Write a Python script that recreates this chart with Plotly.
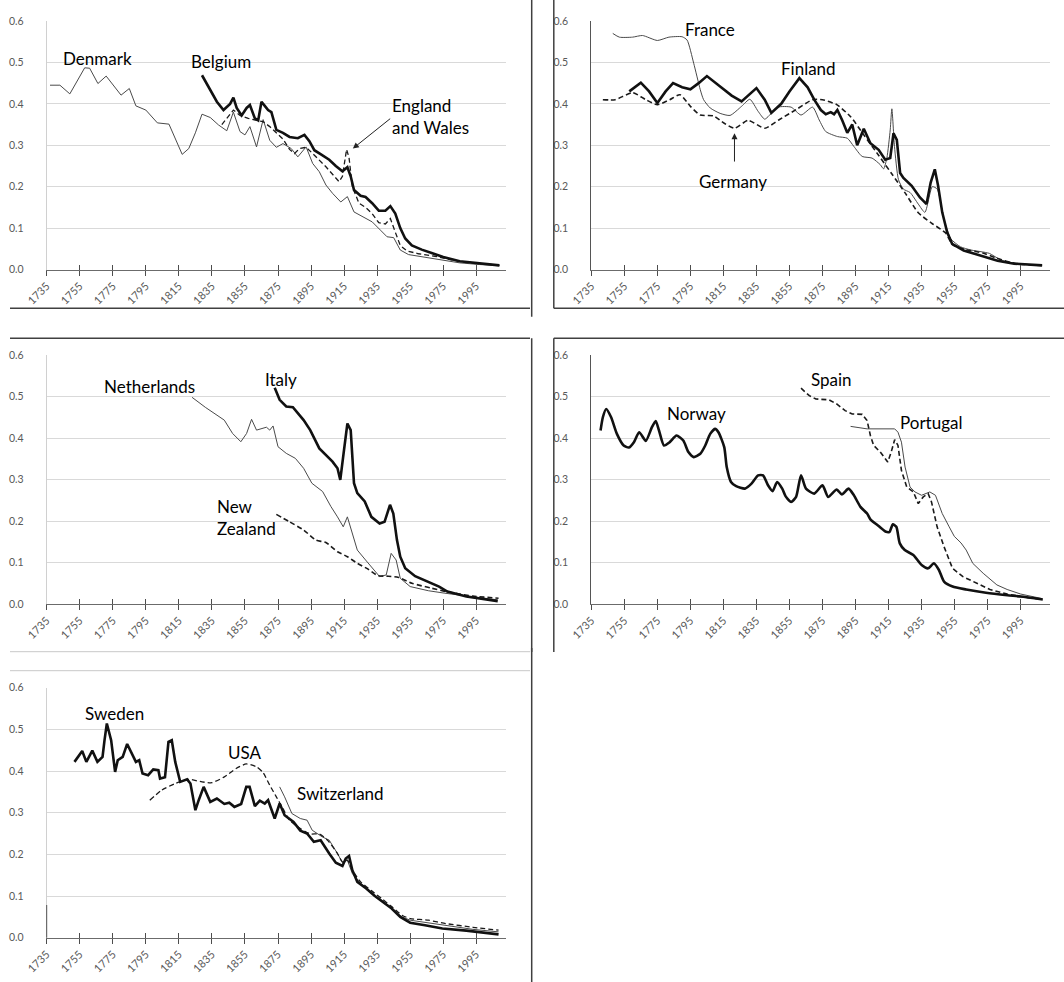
import plotly.graph_objects as go

# ---------------- data ----------------
denmark_year = [1737,1743,1749,1755,1758,1761,1766,1771,1780,1785,1789,1795,1802,1809,1813,1817,1821,1825,1829,1834,1839,1844,1848,1852,1855,1858,1862,1866,1870,1874,1878,1883,1887,1892,1896,1900,1904,1908,1913,1917,1921,1927,1932,1937,1941,1945,1949,1954,1964,1975,1985,1997,2009]
denmark_val = [0.445,0.445,0.424,0.466,0.487,0.486,0.449,0.467,0.421,0.437,0.395,0.385,0.354,0.351,0.316,0.278,0.292,0.33,0.375,0.367,0.349,0.335,0.38,0.333,0.325,0.345,0.296,0.362,0.312,0.295,0.304,0.292,0.272,0.296,0.256,0.236,0.204,0.184,0.163,0.176,0.139,0.127,0.115,0.095,0.079,0.077,0.047,0.036,0.029,0.023,0.016,0.012,0.009]

belgium_year = [1829,1833,1838,1842,1846,1848,1850,1853,1856,1858,1861,1863,1865,1867,1869,1871,1874,1878,1882,1887,1891,1894,1897,1901,1906,1910,1914,1917,1919,1921,1925,1928,1932,1936,1940,1943,1946,1949,1952,1956,1962,1968,1975,1985,1995,2009]
belgium_val = [0.469,0.44,0.405,0.385,0.40,0.415,0.39,0.372,0.39,0.397,0.365,0.36,0.405,0.395,0.385,0.38,0.337,0.33,0.32,0.317,0.325,0.31,0.288,0.278,0.265,0.25,0.237,0.247,0.225,0.192,0.178,0.175,0.16,0.142,0.142,0.153,0.135,0.10,0.075,0.058,0.048,0.04,0.03,0.02,0.016,0.01]

england_year = [1841,1845,1848,1852,1857,1862,1866,1870,1874,1878,1882,1885,1888,1892,1896,1900,1904,1908,1912,1914,1916.5,1918,1920,1924,1928,1932,1936,1940,1943,1946,1949,1953,1960,1970,1980,1990,2000,2009]
england_val = [0.35,0.37,0.385,0.372,0.365,0.36,0.357,0.345,0.33,0.315,0.29,0.28,0.292,0.295,0.28,0.265,0.248,0.23,0.212,0.225,0.29,0.27,0.20,0.16,0.15,0.135,0.113,0.11,0.123,0.09,0.058,0.045,0.038,0.032,0.023,0.017,0.013,0.01]

france_year = [1748,1752,1760,1766,1775,1782,1790,1793,1797,1801,1803,1807,1813,1819,1826,1831,1836,1840,1844,1848,1856,1862,1869,1873,1877,1884,1890,1894,1899,1905,1910,1912,1914,1916,1917,1918.6,1921,1924,1928,1933,1937,1941.5,1944.5,1948.5,1952.5,1958.5,1965,1971,1976,1983,1992,2000,2008]
france_val = [0.570,0.561,0.561,0.565,0.553,0.561,0.562,0.554,0.498,0.434,0.41,0.39,0.377,0.372,0.394,0.411,0.382,0.363,0.377,0.392,0.392,0.373,0.392,0.361,0.333,0.321,0.317,0.297,0.273,0.269,0.253,0.243,0.27,0.337,0.388,0.297,0.217,0.194,0.186,0.158,0.138,0.2,0.194,0.122,0.075,0.055,0.047,0.043,0.039,0.023,0.015,0.012,0.01]

finland_year = [1758,1765,1770,1775,1780,1784.5,1790,1795,1800,1805,1813,1820,1826,1831,1835,1840,1844,1850,1855,1861,1866,1870,1874,1877,1880,1882,1884,1887,1890,1893,1896,1900,1904,1909,1913,1916,1918,1920,1922,1924,1929,1934,1938,1940.5,1943,1945,1947.5,1950.5,1953.5,1960.5,1971,1981,1991,2008]
finland_val = [0.43,0.451,0.43,0.402,0.43,0.45,0.44,0.435,0.45,0.467,0.442,0.42,0.406,0.425,0.438,0.41,0.378,0.40,0.43,0.462,0.44,0.41,0.385,0.375,0.38,0.375,0.385,0.36,0.33,0.35,0.30,0.34,0.305,0.289,0.265,0.269,0.329,0.313,0.233,0.221,0.202,0.174,0.158,0.21,0.242,0.202,0.138,0.09,0.062,0.046,0.033,0.021,0.014,0.01]

germany_year = [1742,1749.5,1760,1768,1775,1782.5,1788.7,1795,1801,1809,1815.5,1821.7,1830,1840,1848.5,1859,1869,1875,1883.6,1892,1900,1908,1916.6,1925,1933,1941,1949.6,1953.7,1962,1972,1980,1987,1995,2008]
germany_val = [0.41,0.41,0.427,0.41,0.398,0.41,0.422,0.394,0.373,0.371,0.353,0.341,0.36,0.341,0.361,0.386,0.41,0.41,0.398,0.369,0.325,0.281,0.233,0.185,0.137,0.112,0.088,0.06,0.048,0.04,0.028,0.019,0.013,0.01]

netherlands_year = [1823,1831,1842.5,1847.5,1852.5,1856,1859,1862,1868,1870,1872,1875,1880,1885.5,1890.5,1895.5,1902,1907,1911,1914.5,1917,1920,1923,1928,1932.5,1936.5,1940.5,1943.5,1946.5,1949,1955,1966,1976,1989,2008]
netherlands_val = [0.498,0.474,0.443,0.411,0.391,0.411,0.445,0.419,0.426,0.419,0.429,0.379,0.363,0.351,0.327,0.291,0.271,0.235,0.21,0.186,0.21,0.17,0.13,0.106,0.086,0.066,0.07,0.122,0.106,0.062,0.042,0.032,0.026,0.019,0.01]

italy_year = [1873,1876,1880,1884,1890.5,1894.5,1900,1904,1908,1911,1912.7,1914.7,1917,1919,1921,1923,1927.5,1931.5,1936.5,1939.5,1942.8,1944.8,1947,1949,1952,1958,1966,1972.5,1977.5,1989,2008]
italy_val = [0.521,0.492,0.476,0.474,0.443,0.419,0.375,0.359,0.343,0.327,0.299,0.363,0.435,0.419,0.291,0.267,0.247,0.21,0.194,0.198,0.239,0.218,0.154,0.114,0.086,0.067,0.054,0.042,0.03,0.018,0.007]

nz_year = [1874,1882,1890.6,1898,1904,1911,1917,1923,1929.5,1935.6,1941.8,1948,1956,1968,1976.5,1993,2008.5]
nz_val = [0.216,0.198,0.178,0.154,0.148,0.126,0.114,0.098,0.084,0.068,0.067,0.064,0.05,0.038,0.03,0.019,0.014]

norway_year = [1740.6,1742,1744,1747,1750.5,1754.6,1757.7,1760.8,1764,1768,1771.7,1774,1776,1779,1782.5,1786.6,1790.7,1793.8,1797,1801,1804,1807,1810,1812,1815.5,1817,1819.6,1822.7,1828,1832,1836,1839,1842,1844.8,1847.5,1850.6,1852.6,1856,1859,1862,1865,1870,1875,1878.4,1883.6,1886.7,1890.8,1894,1898,1902,1904,1909,1913.5,1915.6,1917.6,1919.7,1921.8,1924.8,1930,1935,1939,1942.4,1945.5,1948.6,1953.8,1962,1974,1987,1995,2008.4]
norway_val = [0.418,0.45,0.47,0.45,0.41,0.382,0.377,0.39,0.414,0.393,0.426,0.441,0.418,0.382,0.39,0.406,0.394,0.366,0.354,0.362,0.382,0.41,0.422,0.414,0.378,0.33,0.294,0.284,0.278,0.29,0.31,0.31,0.286,0.272,0.294,0.278,0.26,0.246,0.258,0.31,0.278,0.266,0.286,0.258,0.276,0.264,0.278,0.262,0.234,0.218,0.204,0.188,0.174,0.174,0.192,0.186,0.146,0.13,0.118,0.094,0.086,0.098,0.082,0.054,0.042,0.035,0.027,0.021,0.018,0.011]

spain_year = [1862,1867,1871,1879,1883.6,1888.7,1893,1899,1902,1904,1906,1910,1914.5,1916.6,1918.7,1920.7,1922.8,1926,1930,1933,1936,1939,1941,1944.4,1948.6,1953.7,1960,1968,1976.4,1986.8,1995,2008]
spain_val = [0.52,0.502,0.494,0.492,0.482,0.466,0.458,0.457,0.442,0.406,0.382,0.366,0.342,0.366,0.396,0.382,0.322,0.282,0.27,0.242,0.258,0.266,0.246,0.186,0.138,0.086,0.066,0.05,0.035,0.024,0.018,0.011]

portugal_year = [1892,1896,1902,1918.7,1920.7,1922.8,1925,1928,1931,1935,1940,1943.4,1947.5,1951.7,1954.8,1958.9,1962,1966,1972.3,1980.6,1986.8,1995,2008]
portugal_val = [0.428,0.425,0.422,0.422,0.414,0.39,0.33,0.282,0.27,0.262,0.27,0.262,0.218,0.186,0.163,0.147,0.13,0.098,0.074,0.046,0.035,0.024,0.013]

sweden_year = [1751.8,1754.4,1756.5,1759,1762.6,1765.7,1768.8,1770,1771.4,1774,1776.4,1778,1781,1783.7,1787,1789,1791,1793,1796.4,1799.5,1802.6,1803.6,1806.6,1808.7,1810.7,1812.8,1815.8,1820,1822,1825,1827,1830,1834,1838,1842.5,1845.5,1848.6,1852.7,1855.8,1857.8,1861,1864,1867,1869,1873,1876,1879,1884.4,1888.5,1892.6,1896.7,1900.8,1906,1910,1914,1916,1918,1920,1923,1928.4,1933.6,1938.7,1943.8,1949,1955,1964,1974.5,1989,2008.5]
sweden_val = [0.422,0.438,0.448,0.422,0.449,0.422,0.434,0.474,0.514,0.474,0.398,0.426,0.434,0.465,0.438,0.422,0.426,0.394,0.39,0.404,0.402,0.382,0.385,0.47,0.474,0.422,0.374,0.38,0.37,0.306,0.33,0.362,0.326,0.334,0.321,0.324,0.314,0.321,0.362,0.362,0.316,0.329,0.322,0.33,0.286,0.322,0.294,0.278,0.257,0.25,0.23,0.234,0.202,0.18,0.172,0.19,0.196,0.162,0.134,0.118,0.1,0.084,0.07,0.05,0.036,0.03,0.022,0.017,0.008]

usa_year = [1797.4,1804.6,1812.8,1821,1829,1835,1842.5,1849.6,1855.8,1862,1866,1870,1874,1878,1882,1888.5,1894.7,1899.8,1905,1911,1914,1917,1920,1925,1931.5,1937.7,1944,1950,1955,1966,1976.5,1993,2008.5]
usa_val = [0.33,0.354,0.37,0.38,0.374,0.372,0.386,0.406,0.417,0.41,0.396,0.366,0.338,0.31,0.282,0.262,0.249,0.249,0.234,0.202,0.182,0.186,0.162,0.134,0.113,0.094,0.074,0.054,0.046,0.042,0.034,0.025,0.018]

swiss_year = [1876,1879,1883.4,1888.5,1892.6,1895.7,1901.8,1906,1911,1914,1917,1920,1925,1931.5,1937.7,1944,1950,1955,1966,1976.5,1993,2008.5]
swiss_val = [0.362,0.338,0.298,0.286,0.282,0.258,0.242,0.234,0.202,0.18,0.186,0.154,0.13,0.106,0.09,0.07,0.05,0.042,0.036,0.03,0.02,0.014]

year_ticks = list(range(1735, 2000, 20))
share_ticks = [0.0, 0.1, 0.2, 0.3, 0.4, 0.5, 0.6]

# ---------------- styles ----------------
THICK = dict(color="#111111", width=2.6)
THIN = dict(color="#4a4a4a", width=1.0)
DASH = dict(color="#1a1a1a", width=1.6, dash="5px,3px")
DASH_THIN = dict(color="#1a1a1a", width=1.3, dash="5px,3px")

W, H = 1064, 982
FONT = "Lato, 'Open Sans', sans-serif"

# panel geometry (pixels)
cols = {"L": (46.7, 506.0), "R": (591.3, 1050.4)}
rows = {1: (21.0, 269.5), 2: (355.0, 604.0), 3: (687.7, 937.7)}
panels = {1: ("L", 1), 2: ("R", 1), 3: ("L", 2), 4: ("R", 2), 5: ("L", 3)}
dark_yaxis = {2, 4}

series = {
    1: [(denmark_year, denmark_val, THIN, "linear"),
        (england_year, england_val, DASH_THIN, "linear"),
        (belgium_year, belgium_val, THICK, "linear")],
    2: [(france_year, france_val, THIN, "spline"),
        (germany_year, germany_val, DASH, "spline"),
        (finland_year, finland_val, THICK, "linear")],
    3: [(netherlands_year, netherlands_val, THIN, "linear"),
        (nz_year, nz_val, DASH, "spline"),
        (italy_year, italy_val, THICK, "linear")],
    4: [(portugal_year, portugal_val, THIN, "linear"),
        (spain_year, spain_val, DASH, "linear"),
        (norway_year, norway_val, THICK, "spline")],
    5: [(swiss_year, swiss_val, THIN, "linear"),
        (usa_year, usa_val, DASH_THIN, "spline"),
        (sweden_year, sweden_val, THICK, "linear")],
}

fig = go.Figure()
layout = dict(
    width=W, height=H, margin=dict(l=0, r=0, t=0, b=0, autoexpand=False),
    paper_bgcolor="white", plot_bgcolor="white", showlegend=False,
    font=dict(family=FONT, color="#000000"),
)

for p, (c, r) in panels.items():
    x0, x1 = cols[c]
    top, bot = rows[r]
    xdom = [x0 / W, x1 / W]
    ydom = [1 - bot / H, 1 - top / H]
    sfx = "" if p == 1 else str(p)
    for xs, ys, ln, shape in series[p]:
        fig.add_trace(go.Scatter(x=xs, y=ys, mode="lines", line=dict(shape=shape, smoothing=0.6, **ln),
                                 xaxis="x" + sfx, yaxis="y" + sfx, hoverinfo="skip"))
    layout["xaxis" + sfx] = dict(
        domain=xdom, anchor="y" + sfx, range=[1735, 2013], tickvals=year_ticks,
        ticktext=[str(t) for t in year_ticks], tickangle=-45,
        tickfont=dict(size=11, color="#595959", family=FONT),
        showgrid=False, zeroline=False, showline=True, linecolor="#6b6b6b", linewidth=1,
        ticks="outside", ticklen=5, tickcolor="#4d4d4d", tickwidth=1,
    )
    layout["yaxis" + sfx] = dict(
        domain=ydom, anchor="x" + sfx, range=[0, 0.6], tickvals=share_ticks,
        tickformat=".1f", tickfont=dict(size=10.5, color="#595959", family=FONT),
        showgrid=True, gridcolor="#d9d9d9", gridwidth=1, zeroline=False,
        showline=True, linecolor=("#555555" if p in dark_yaxis else "#d0d0d0"), linewidth=1,
        ticks="", ticklabelstandoff=20,
    )
    # overlay axis for the upper half of the cross tick marks
    ov = str(p + 5)
    layout["xaxis" + ov] = dict(
        domain=xdom, anchor="y" + sfx, overlaying="x" + sfx, range=[1735, 2013],
        tickvals=year_ticks, showticklabels=False, showgrid=False, zeroline=False,
        showline=False, ticks="inside", ticklen=5, tickcolor="#4d4d4d", tickwidth=1,
    )
    fig.add_trace(go.Scatter(x=[], y=[], xaxis="x" + ov, yaxis="y" + sfx, hoverinfo="skip"))

# ---------------- text labels ----------------
LBL = dict(size=17, color="#000000", family=FONT)
labels = [
    ("Denmark", 1765.5, 0.51, "center", ""),
    ("Belgium", 1840.6, 0.502, "center", ""),
    ("England<br>and Wales", 1943.0, 0.37, "left", ""),
    ("France", 1806.6, 0.58, "center", "2"),
    ("Finland", 1866.4, 0.486, "center", "2"),
    ("Germany", 1821.0, 0.213, "center", "2"),
    ("Netherlands", 1797.0, 0.524, "center", "3"),
    ("Italy", 1877.0, 0.54, "center", "3"),
    ("New<br>Zealand", 1837.0, 0.209, "left", "3"),
    ("Norway", 1799.0, 0.46, "center", "4"),
    ("Spain", 1880.5, 0.54, "center", "4"),
    ("Portugal", 1940.4, 0.438, "center", "4"),
    ("Sweden", 1776.0, 0.537, "center", "5"),
    ("USA", 1854.8, 0.444, "center", "5"),
    ("Switzerland", 1912.7, 0.345, "center", "5"),
]
annotations = []
for txt, x, y, anch, s in labels:
    annotations.append(dict(text=txt, x=x, y=y, xref="x" + s, yref="y" + s, xanchor=anch,
                            yanchor="middle", align="left", showarrow=False, font=LBL))
# arrows
annotations.append(dict(text="", x=1920.3, y=0.292, ax=1943.8, ay=0.367, xref="x", yref="y",
                        axref="x", ayref="y", showarrow=True, arrowhead=2, arrowsize=1.2,
                        arrowwidth=1, arrowcolor="#222222"))
annotations.append(dict(text="", x=1821.7, y=0.329, ax=1821.7, ay=0.257, xref="x2", yref="y2",
                        axref="x2", ayref="y2", showarrow=True, arrowhead=2, arrowsize=1.2,
                        arrowwidth=1, arrowcolor="#222222"))
layout["annotations"] = annotations

# ---------------- panel frame lines (paper space) ----------------
def hline(y, xa, xb, color="#404040", w=1.5):
    return dict(type="line", xref="paper", yref="paper", x0=xa / W, x1=xb / W,
                y0=1 - y / H, y1=1 - y / H, line=dict(color=color, width=w))

def vline(x, ya, yb, color="#404040", w=1.5):
    return dict(type="line", xref="paper", yref="paper", x0=x / W, x1=x / W,
                y0=1 - ya / H, y1=1 - yb / H, line=dict(color=color, width=w))

layout["shapes"] = [
    hline(308.3, 10, 530),
    vline(531.7, 0, 316.7),
    vline(553.8, 0, 308.3),
    hline(308.3, 553.8, 1064),
    hline(338.3, 10, 530),
    hline(338.3, 553.8, 1064),
    vline(553.8, 338.3, 652),
    vline(531.7, 338.3, 652),
    hline(651.7, 10, 530, "#c8c8c8", 1),
    hline(670.7, 10, 530, "#c8c8c8", 1),
    vline(531.7, 648, 982),
    vline(46.7, 905, 937.7, "#555555", 1),
]

fig.update_layout(**layout)
fig.write_html("out.html", config={"displayModeBar": False},
               post_script="document.body.style.margin='0';document.body.style.overflow='hidden';")
